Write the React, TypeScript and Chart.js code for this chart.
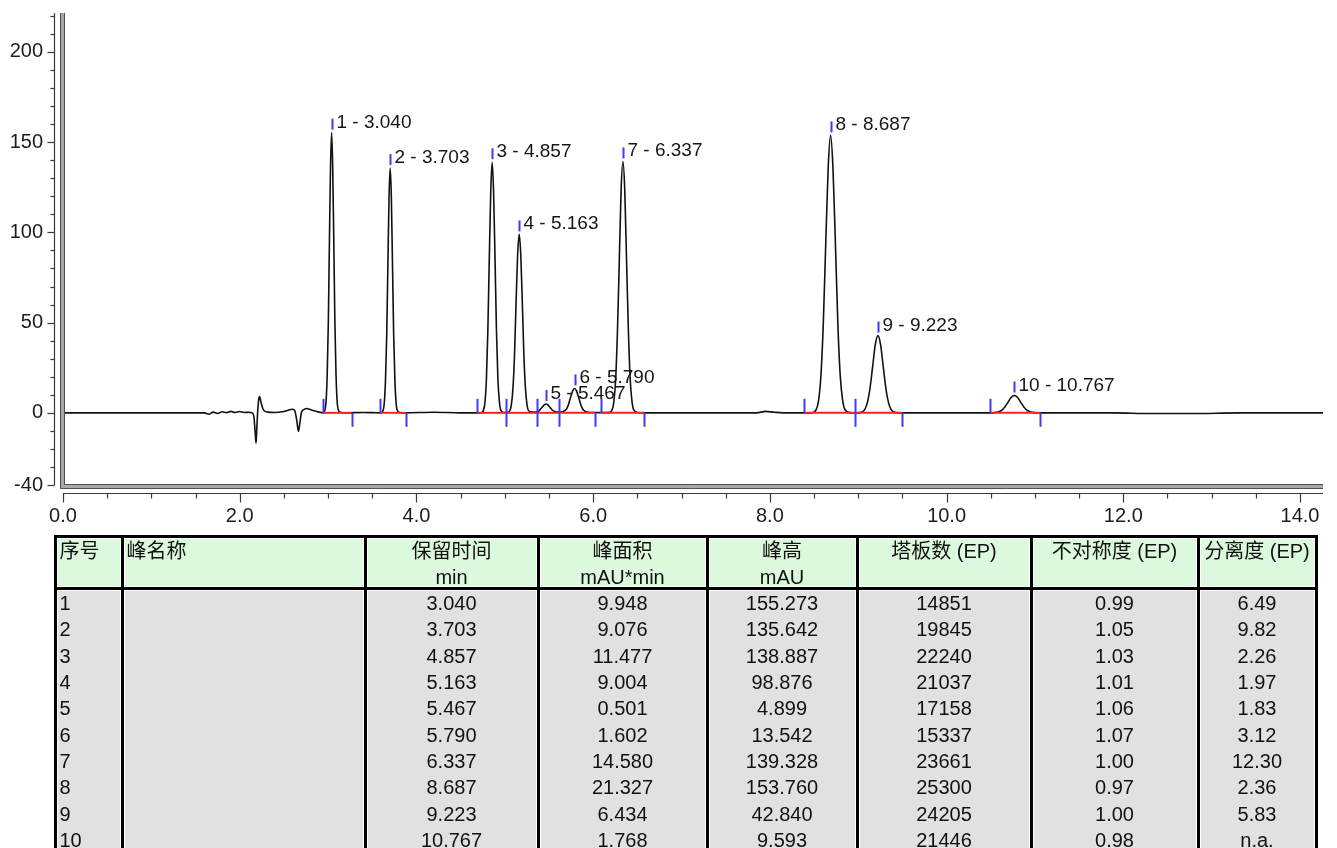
import React, { useEffect, useRef } from 'react';
import { Chart, registerables } from 'chart.js';

Chart.register(...registerables);

// ---- chromatogram trace (min, mAU) ----
const traceTime = [
  0, 1.6, 1.65, 1.7, 1.75, 1.8, 1.85, 1.9, 1.95, 2.0, 2.05, 2.1, 2.14, 2.16, 2.175, 2.185, 2.195, 2.205, 2.215, 2.225,
  2.24, 2.26, 2.28, 2.32, 2.4, 2.48, 2.54, 2.59, 2.62, 2.645, 2.665, 2.685, 2.7, 2.725, 2.76, 2.8, 2.85, 2.9, 2.94,
  2.965, 2.978, 2.99, 3.003, 3.015, 3.028, 3.04, 3.052, 3.065, 3.077, 3.09, 3.102, 3.115, 3.14, 3.2, 3.4, 3.5,
  3.598, 3.624, 3.637, 3.65, 3.664, 3.677, 3.69, 3.703, 3.716, 3.729, 3.742, 3.756, 3.769, 3.782, 3.808, 3.86, 4.2, 4.5,
  4.727, 4.759, 4.776, 4.792, 4.808, 4.824, 4.841, 4.857, 4.873, 4.89, 4.906, 4.922, 4.939, 4.955, 4.987,
  5.021, 5.056, 5.074, 5.092, 5.11, 5.127, 5.145, 5.163, 5.181, 5.199, 5.216, 5.234, 5.252, 5.27, 5.305,
  5.342, 5.384, 5.425, 5.446, 5.467, 5.488, 5.509, 5.55, 5.592, 5.62,
  5.65, 5.697, 5.72, 5.743, 5.767, 5.79, 5.813, 5.837, 5.86, 5.883, 5.93, 5.98,
  6.172, 6.213, 6.234, 6.255, 6.275, 6.296, 6.316, 6.337, 6.358, 6.378, 6.399, 6.419, 6.44, 6.461, 6.502, 6.56,
  7.0, 7.85, 7.95, 8.05, 8.15, 8.4,
  8.469, 8.523, 8.551, 8.578, 8.605, 8.632, 8.66, 8.687, 8.714, 8.742, 8.769, 8.796, 8.824, 8.851, 8.905,
  8.986, 9.045, 9.075, 9.104, 9.134, 9.164, 9.193, 9.223, 9.253, 9.282, 9.312, 9.342, 9.371, 9.401, 9.46,
  10.0, 10.473, 10.547, 10.62, 10.657, 10.694, 10.73, 10.767, 10.804, 10.84, 10.877, 10.914, 10.987, 11.061,
  11.9, 12.3, 12.8, 13.3, 14.26,
];
const traceSignal = [
  0, 0, -0.8, 0.4, -0.4, 0.6, 0.1, 0.8, 0.2, 0.7, 0.2, 0.3, 0, -2, -11, -16.8, -7, 2, 7.5, 9,
  6, 2.5, 1, 0.4, 0.2, 0.6, 1.3, 2, 1.5, -4, -10.3, -4, 0.5, 1.8, 2.4, 1.8, 1, 0.4, 0,
  1.7, 6.8, 21, 50.4, 94.2, 137, 155.3, 137, 94.2, 50.4, 21, 6.8, 1.7, 0.3, 0, 0.2, 0.1,
  0, 1.5, 6, 18.4, 44, 82.3, 119.7, 135.6, 119.7, 82.3, 44, 18.4, 6, 1.5, 0.2, 0, 0.3, 0,
  0, 1.5, 6.1, 18.8, 45.1, 84.2, 122.6, 138.9, 122.6, 84.2, 45.1, 18.8, 6.1, 1.5, 0.2,
  0.2, 1.1, 4.3, 13.4, 32.1, 60, 87.3, 98.9, 87.3, 60, 32.1, 13.4, 4.3, 1.1, 0.4,
  0.4, 1.0, 3.2, 4.4, 4.9, 4.4, 3.2, 1.1, 0.4, 0.4,
  0.6, 2, 4.5, 8.3, 12, 13.5, 12, 8.3, 4.5, 2, 0.4, 0.2,
  0.1, 1.5, 6.1, 18.9, 45.2, 84.5, 123, 139.3, 123, 84.5, 45.2, 18.9, 6.1, 1.5, 0.2, 0,
  0, 0, 0.8, 0.3, 0, 0,
  0, 1.7, 6.8, 20.8, 49.9, 93.3, 135.7, 153.8, 135.7, 93.3, 49.9, 20.8, 6.8, 1.7, 0.1,
  0, 0.5, 1.9, 5.8, 13.9, 26, 37.8, 42.8, 37.8, 26, 13.9, 5.8, 1.9, 0.5, 0,
  0, 0, 0.1, 1.3, 3.1, 5.8, 8.5, 9.6, 8.5, 5.8, 3.1, 1.3, 0.1, 0,
  0, -0.4, -0.4, 0, 0,
];

// ---- peak table ----
const peakNumbers = ['1', '2', '3', '4', '5', '6', '7', '8', '9', '10'];
const peakNames = ['', '', '', '', '', '', '', '', '', ''];
const retentionTimes = [3.040, 3.703, 4.857, 5.163, 5.467, 5.790, 6.337, 8.687, 9.223, 10.767];
const peakAreas = ['9.948', '9.076', '11.477', '9.004', '0.501', '1.602', '14.580', '21.327', '6.434', '1.768'];
const peakHeights = [155.273, 135.642, 138.887, 98.876, 4.899, 13.542, 139.328, 153.760, 42.840, 9.593];
const plateCounts = ['14851', '19845', '22240', '21037', '17158', '15337', '23661', '25300', '24205', '21446'];
const asymmetry = ['0.99', '1.05', '1.03', '1.01', '1.06', '1.07', '1.00', '0.97', '1.00', '0.98'];
const resolution = ['6.49', '9.82', '2.26', '1.97', '1.83', '3.12', '12.30', '2.36', '5.83', 'n.a.'];

// ---- integration limits (min) ----
const peakStarts = [2.946, 3.588, 4.682, 5.014, 5.368, 5.61, 6.085, 8.39, 8.967, 10.495];
const peakEnds = [3.267, 3.882, 5.014, 5.368, 5.61, 6.021, 6.575, 8.967, 9.499, 11.06];

// ---- axes ----
const xMin = 0;
const xMax = 14.26;
const yMin = -40;
const yMax = 221.6;

const headerLine1 = ['序号', '峰名称', '保留时间', '峰面积', '峰高', '塔板数 (EP)', '不对称度 (EP)', '分离度 (EP)'];
const headerLine2 = ['', '', 'min', 'mAU*min', 'mAU', '', '', ''];

const colLines = [55, 122, 365, 538, 707, 857, 1031, 1198, 1316];

const FONT = '"Liberation Sans", Arial, "Noto Sans CJK SC", sans-serif';

const decorPlugin = {
  id: 'decor',
  afterDraw(chart: any) {
    const { ctx, chartArea, scales } = chart;
    const xs = scales.x;
    const ys = scales.y;
    const { left, right, top, bottom } = chartArea;
    const seg = (x1: number, y1: number, x2: number, y2: number) => {
      ctx.beginPath();
      ctx.moveTo(x1, y1);
      ctx.lineTo(x2, y2);
      ctx.stroke();
    };
    ctx.save();

    // integration baselines
    const y0 = ys.getPixelForValue(0);
    ctx.strokeStyle = '#ff2020';
    ctx.lineWidth = 2;
    peakStarts.forEach((s, i) => {
      seg(xs.getPixelForValue(s), y0, xs.getPixelForValue(peakEnds[i]), y0);
    });

    // peak delimiters
    ctx.strokeStyle = '#3b3bff';
    ctx.lineWidth = 2;
    peakStarts.forEach((s) => {
      const px = Math.round(xs.getPixelForValue(s)) + 0.5;
      seg(px, y0, px, y0 - 14);
    });
    peakEnds.forEach((e) => {
      const px = Math.round(xs.getPixelForValue(e)) + 0.5;
      seg(px, y0, px, y0 + 14);
    });

    // apex markers and labels
    ctx.font = '19px ' + FONT;
    ctx.textAlign = 'left';
    ctx.textBaseline = 'alphabetic';
    retentionTimes.forEach((t, i) => {
      const px = Math.round(xs.getPixelForValue(t)) + 0.5;
      const py = ys.getPixelForValue(peakHeights[i]);
      ctx.strokeStyle = '#3b3bff';
      seg(px, py - 3, px, py - 14);
      ctx.fillStyle = '#151515';
      ctx.fillText(peakNumbers[i] + ' - ' + t.toFixed(3), px + 4, py - 5);
    });

    // plot frame (left + bottom double line)
    ctx.fillStyle = '#a8a8a8';
    ctx.fillRect(left - 3, top, 5, bottom + 3 - top);
    ctx.fillRect(left - 3, bottom - 1, right - left + 3, 5);
    ctx.strokeStyle = '#505050';
    ctx.lineWidth = 1;
    seg(left - 2.5, top, left - 2.5, bottom + 3.5);
    seg(left + 1.5, top, left + 1.5, bottom - 0.5);
    seg(left + 1.5, bottom - 0.5, right, bottom - 0.5);
    seg(left - 2.5, bottom + 3.5, right, bottom + 3.5);

    // y axis line with ticks
    ctx.strokeStyle = '#3a3a3a';
    ctx.lineWidth = 1.2;
    const ax = left - 8.5;
    seg(ax, top, ax, bottom);
    ys.ticks.forEach((tk: any) => {
      const v = tk.value;
      if (Math.abs(v - Math.round(v / 10) * 10) > 1e-6) return;
      const py = Math.round(ys.getPixelForValue(v)) + 0.5;
      const major = Math.abs(v % 50) < 1e-6 || v === yMin;
      seg(ax - (major ? 7 : 4), py, ax, py);
    });

    // x axis line with ticks
    const ay = bottom + 8.5;
    seg(left, ay, right, ay);
    xs.ticks.forEach((tk: any) => {
      const v = tk.value;
      if (Math.abs(v * 2 - Math.round(v * 2)) > 1e-6) return;
      const px = Math.round(xs.getPixelForValue(v)) + 0.5;
      const major = Math.abs(v / 2 - Math.round(v / 2)) < 1e-6;
      seg(px, ay, px, ay + (major ? 9 : 5));
    });

    ctx.restore();
  },
};

function ChromChart() {
  const ref = useRef<HTMLCanvasElement>(null);
  useEffect(() => {
    if (!ref.current) return;
    const points = traceTime.map((t, i) => ({ x: t, y: traceSignal[i] }));
    const chart = new Chart(ref.current, {
      type: 'line',
      data: {
        datasets: [
          {
            data: points,
            borderColor: '#111111',
            borderWidth: 1.6,
            pointRadius: 0,
            cubicInterpolationMode: 'monotone',
            fill: false,
          },
        ],
      },
      options: {
        responsive: false,
        animation: false,
        devicePixelRatio: 1,
        layout: { padding: { top: 13, right: 14, left: 0, bottom: 0 } },
        plugins: { legend: { display: false }, tooltip: { enabled: false }, title: { display: false } },
        scales: {
          x: {
            type: 'linear',
            min: xMin,
            max: xMax,
            grid: { display: false, drawTicks: false },
            border: { display: false },
            afterFit: (s: any) => {
              s.height = 50;
              s.paddingLeft = 0;
              s.paddingRight = 0;
              s.paddingTop = 0;
              s.paddingBottom = 0;
            },
            ticks: {
              stepSize: 0.5,
              includeBounds: false,
              autoSkip: false,
              maxRotation: 0,
              padding: 19,
              color: '#1b1b26',
              font: { family: FONT, size: 20 },
              callback: (v: any) => {
                const n = Number(v);
                return Math.abs(n / 2 - Math.round(n / 2)) < 1e-6 ? n.toFixed(1) : '';
              },
            },
          },
          y: {
            type: 'linear',
            min: yMin,
            max: yMax,
            grid: { display: false, drawTicks: false },
            border: { display: false },
            afterFit: (s: any) => {
              s.width = 63;
              s.paddingLeft = 0;
              s.paddingRight = 0;
              s.paddingTop = 0;
              s.paddingBottom = 0;
            },
            ticks: {
              stepSize: 10,
              includeBounds: false,
              autoSkip: false,
              padding: 20,
              color: '#1b1b26',
              font: { family: FONT, size: 20 },
              callback: (v: any) => {
                const n = Number(v);
                return Math.abs(n % 50) < 1e-6 || n === yMin ? String(n) : '';
              },
            },
          },
        },
      },
      plugins: [decorPlugin],
    } as any);
    return () => chart.destroy();
  }, []);
  return (
    <canvas
      ref={ref}
      width={1337}
      height={535}
      style={{ position: 'absolute', left: 0, top: 0, width: 1337, height: 535 }}
    />
  );
}

function PeakTable() {
  const tableTop = 535;
  const headerBottom = 587;
  const rowTop = 590;
  const rowH = 26.33;
  const border = 3;
  const els: any[] = [];
  const columns = [
    peakNumbers,
    peakNames,
    retentionTimes.map((t) => t.toFixed(3)),
    peakAreas,
    peakHeights.map((h) => h.toFixed(3)),
    plateCounts,
    asymmetry,
    resolution,
  ];
  for (let c = 0; c < 8; c++) {
    const l = colLines[c] + border / 2 + 1;
    const r = colLines[c + 1] - border / 2 - 1;
    els.push(
      <div key={'hb' + c} style={{ position: 'absolute', left: l, top: tableTop + border + 1, width: r - l, height: headerBottom - tableTop - border - 2, background: '#ddf9dd' }} />
    );
    els.push(
      <div key={'db' + c} style={{ position: 'absolute', left: l, top: headerBottom + border + 1, width: r - l, height: 848 - headerBottom, background: '#e1e1e1' }} />
    );
    const align = c < 2 ? 'left' : 'center';
    const tl = colLines[c] + border / 2 + (c < 2 ? 3 : 0);
    const tw = colLines[c + 1] - colLines[c] - border - (c < 2 ? 3 : 0);
    els.push(
      <div key={'h1' + c} style={{ position: 'absolute', left: tl, top: 538, width: tw, height: 26, lineHeight: '26px', textAlign: align as any, whiteSpace: 'nowrap' }}>
        {headerLine1[c]}
      </div>
    );
    if (headerLine2[c]) {
      els.push(
        <div key={'h2' + c} style={{ position: 'absolute', left: tl, top: 564, width: tw, height: 26, lineHeight: '26px', textAlign: align as any, whiteSpace: 'nowrap' }}>
          {headerLine2[c]}
        </div>
      );
    }
    columns[c].forEach((txt, r) => {
      els.push(
        <div key={'d' + c + '_' + r} style={{ position: 'absolute', left: tl, top: rowTop + r * rowH, width: tw, height: rowH, lineHeight: rowH + 'px', textAlign: align as any, whiteSpace: 'nowrap' }}>
          {txt}
        </div>
      );
    });
  }
  colLines.forEach((x, i) => {
    els.push(
      <div key={'v' + i} style={{ position: 'absolute', left: x - border / 2, top: tableTop, width: border, height: 848 - tableTop, background: '#000' }} />
    );
  });
  els.push(
    <div key="top" style={{ position: 'absolute', left: colLines[0] - border / 2, top: tableTop, width: colLines[8] - colLines[0] + border, height: border, background: '#000' }} />
  );
  els.push(
    <div key="mid" style={{ position: 'absolute', left: colLines[0] - border / 2, top: headerBottom, width: colLines[8] - colLines[0] + border, height: border, background: '#000' }} />
  );
  return (
    <div style={{ position: 'absolute', left: 0, top: 0, width: 1337, height: 848, fontFamily: FONT, fontSize: 20, color: '#111' }}>
      {els}
    </div>
  );
}

export default function App() {
  return (
    <div style={{ position: 'absolute', left: 0, top: 0, width: 1337, height: 848, overflow: 'hidden', background: '#fff' }}>
      <ChromChart />
      <PeakTable />
    </div>
  );
}
